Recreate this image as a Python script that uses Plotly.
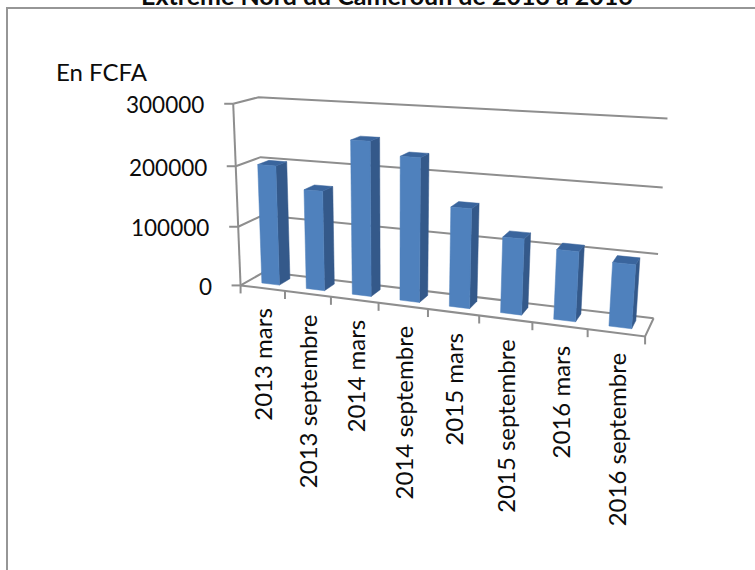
import numpy as np
import plotly.graph_objects as go

categories = ["2013 mars", "2013 septembre", "2014 mars", "2014 septembre",
              "2015 mars", "2015 septembre", "2016 mars", "2016 septembre"]
values = [200000, 165000, 250000, 230000, 158000, 119000, 108000, 97000]
value_ticks = [0, 100000, 200000, 300000]
title_text = "Extrême Nord du Cameroun de 2013 à 2016"
unit_text = "En FCFA"

FONT = "Lato"
GREY = "#8e8e8e"
INK = "#0c0c0c"
FRONT, SIDE, TOP = "#4f81bd", "#34598a", "#3a659d"
BAR_U = (0.32, 0.72)
BAR_D = (0.30, 0.76)

# Perspective scale of the 3-D box: (category, value, depth) -> page pixels
calib = [
    (0, 0, 0, 242, 285), (8, 0, 0, 645, 337), (0, 300000, 0, 232, 104),
    (0, 0, 1, 263, 271.5), (8, 0, 1, 654, 317), (8, 300000, 1, 667, 118),
    (0, 300000, 1, 260, 97), (0, 100000, 0, 238, 226), (0, 200000, 0, 235, 166),
    (8, 100000, 1, 658, 254), (8, 200000, 1, 663, 188),
    (0, 100000, 1, 261, 217), (0, 200000, 1, 262, 157),
    (4, 0, 0, 428, 309), (1, 0, 0, 286, 291), (6, 0, 0, 532, 323),
]
A, b = [], []
for u, v, d, px, py in calib:
    V = v / 100000
    A.append([u, V, d, 1, 0, 0, 0, 0, -px * u, -px * V, -px * d])
    A.append([0, 0, 0, 0, u, V, d, 1, -py * u, -py * V, -py * d])
    b += [px, py]
m = np.linalg.lstsq(np.array(A, float), np.array(b, float), rcond=None)[0]


def proj(u, v, d):
    V = v / 100000
    w = m[8] * u + m[9] * V + m[10] * d + 1
    return ((m[0] * u + m[1] * V + m[2] * d + m[3]) / w,
            (m[4] * u + m[5] * V + m[6] * d + m[7]) / w)


def line(pts, width=2, color=GREY):
    fig.add_trace(go.Scatter(x=[p[0] for p in pts], y=[p[1] for p in pts], mode="lines",
                             line=dict(color=color, width=width), hoverinfo="skip"))


def face(pts, color):
    pts = pts + pts[:1]
    fig.add_trace(go.Scatter(x=[p[0] for p in pts], y=[p[1] for p in pts], mode="lines",
                             fill="toself", fillcolor=color, line=dict(color=color, width=0.5),
                             hoverinfo="skip"))


fig = go.Figure()
n = len(categories)

# frame
line([(7, 570), (7, 8), (755, 8)], 2, "#969696")

# walls and floor
for t in value_ticks:
    line([proj(0, t, 0), proj(0, t, 1), proj(n, t, 1)])
    x, y = proj(0, t, 0)
    line([(x - 9, y), (x, y)])
line([proj(0, 0, 0), proj(0, 300000, 0)])
line([proj(0, 0, 0), proj(n, 0, 0), proj(n, 0, 1)])
for i in range(n + 1):
    x, y = proj(i, 0, 0)
    line([(x, y), (x, y + 8)])

# bars
for i, val in enumerate(values):
    u0, u1 = i + BAR_U[0], i + BAR_U[1]
    d0, d1 = BAR_D
    face([proj(u1, 0, d0), proj(u1, val, d0), proj(u1, val, d1), proj(u1, 0, d1)], SIDE)
    face([proj(u0, val, d0), proj(u1, val, d0), proj(u1, val, d1), proj(u0, val, d1)], TOP)
    face([proj(u0, 0, d0), proj(u1, 0, d0), proj(u1, val, d0), proj(u0, val, d0)], FRONT)

ann = []
ann.append(dict(x=54, y=71, text=unit_text, showarrow=False, xanchor="left", yanchor="middle",
                xref="x", yref="y", font=dict(family=FONT, size=24, color=INK)))
for t in value_ticks:
    x, y = proj(0, t, 0)
    ann.append(dict(x=x - 27, y=y + 1, text=str(t), showarrow=False, xanchor="right",
                    yanchor="middle", xref="x", yref="y",
                    font=dict(family=FONT, size=22.5, color=INK)))
for i, c in enumerate(categories):
    x, y = proj(i + 0.5, 0, 0)
    ann.append(dict(x=x + 0.5, y=y + 18, text=c, textangle=-90, showarrow=False, xanchor="center",
                    yanchor="top", xref="x", yref="y",
                    font=dict(family=FONT, size=24, color=INK)))
# title, cut by the top of the page in the reference
ann.append(dict(x=387.5 / 755, y=1, yshift=22, text=f"<b>{title_text}</b>", showarrow=False,
                xanchor="center", yanchor="top", xref="paper", yref="paper",
                font=dict(family=FONT, size=25, color=INK)))

fig.update_layout(
    width=755, height=570, autosize=False, showlegend=False,
    margin=dict(l=0, r=0, t=0, b=0), plot_bgcolor="white", paper_bgcolor="white",
    xaxis=dict(range=[0, 755], visible=False, fixedrange=True),
    yaxis=dict(range=[570, 0], visible=False, fixedrange=True),
    annotations=ann,
)
fig.write_html("out.html", config={"displayModeBar": False},
               post_script="document.body.style.margin='0';document.documentElement.style.overflow='hidden';")
